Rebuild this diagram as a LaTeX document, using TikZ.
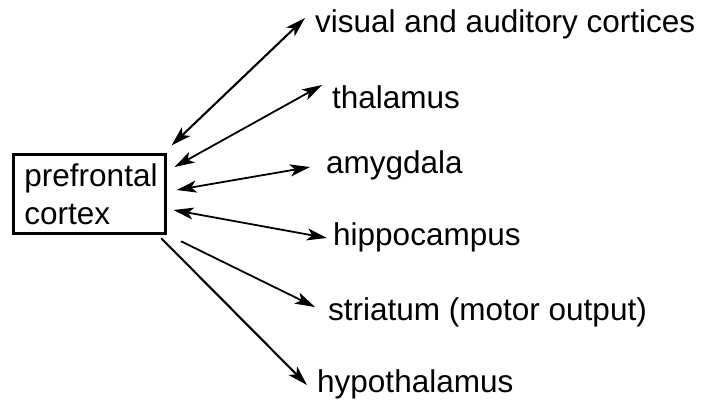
\documentclass[tikz,border=0pt]{standalone}
\usepackage{fontspec}
\setmainfont{Liberation Sans}
\usetikzlibrary{arrows.meta}

\begin{document}
\begin{tikzpicture}[
			x=1pt,
			y=-1pt,
			>={Stealth[length=20pt,width=12pt,inset=5pt]},
			font=\fontsize{31.5}{38}\selectfont,
			area/.style={draw, line width=3pt, align=left, minimum width=152pt, minimum height=79pt, inner sep=0pt},
			target/.style={anchor=base west, inner sep=0pt},
			link/.style={line width=1.8pt, line cap=round}
		]
			\useasboundingbox (0,0) rectangle (707,400);

			\node[area] (pfc) at (89.5,194) {\hspace*{3pt}prefrontal\\\hspace*{3pt}cortex};

			\node[target] (vis)   at (315,32)  {visual and auditory cortices};
			\node[target] (thal)  at (332,108) {thalamus};
			\node[target] (amyg)  at (326,173) {amygdala};
			\node[target] (hippo) at (333,245) {hippocampus};
			\node[target] (stri)  at (328,320) {striatum (motor output)};
			\node[target] (hypo)  at (317,392) {hypothalamus};

			\draw[link, <->, line width=2.1pt] ([xshift=4.5pt,yshift=7.5pt]pfc.north east) -- ([xshift=-10pt,yshift=14pt]vis.base west);
			\draw[link, <->] ([xshift=7.5pt,yshift=27pt]pfc.east) -- ([xshift=-10pt,yshift=23pt]thal.base west);
			\draw[link, <->] ([xshift=9.5pt,yshift=4pt]pfc.east) -- ([xshift=-16pt,yshift=6pt]amyg.base west);
			\draw[link, <->] ([xshift=6.5pt,yshift=-16pt]pfc.east) -- ([xshift=-6pt,yshift=7pt]hippo.base west);

			\draw[link, ->] ([xshift=14.5pt,yshift=-6.5pt]pfc.south east) -- ([xshift=-13pt,yshift=13pt]stri.base west);
			\draw[link, ->, line width=2.1pt] ([xshift=-5.5pt,yshift=-3.5pt]pfc.south east) -- ([xshift=-10pt,yshift=7pt]hypo.base west);
		\end{tikzpicture}
\end{document}
